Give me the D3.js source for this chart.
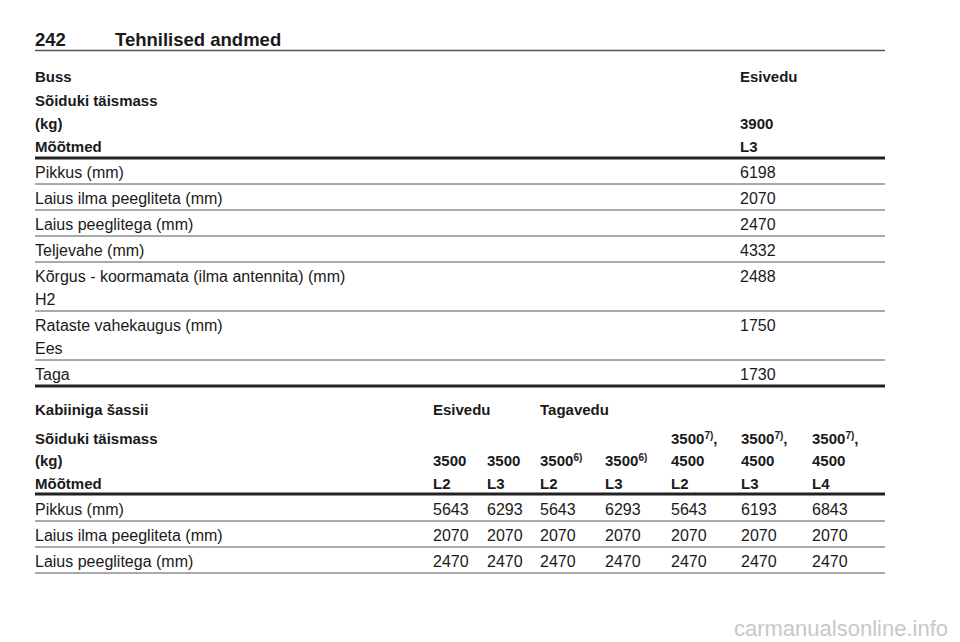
<!DOCTYPE html>
<html><head><meta charset="utf-8">
<script src="https://cdn.jsdelivr.net/npm/d3@7"></script>
<style>body{margin:0;background:#fff}text{font-family:"Liberation Sans",Arial,sans-serif;fill:#1a1a1a}</style>
</head><body><svg id="s" width="960" height="642"></svg>
<script>
const pageNo = "242", pageTitle = "Tehnilised andmed";
const t1Header = [["Buss","Esivedu"],["Sõiduki täismass",""],["(kg)","3900"],["Mõõtmed","L3"]];
const t1Rows = [["Pikkus (mm)","6198"],["Laius ilma peegliteta (mm)","2070"],["Laius peeglitega (mm)","2470"],["Teljevahe (mm)","4332"],["Kõrgus - koormamata (ilma antennita) (mm)|H2","2488"],["Rataste vahekaugus (mm)|Ees","1750"],["Taga","1730"]];
const t2Groups = [["Kabiiniga šassii",-1],["Esivedu",0],["Tagavedu",2]];
const t2Mass1 = ["","","","","3500|7)|,","3500|7)|,","3500|7)|,"];
const t2Mass2 = ["3500","3500","3500|6)|","3500|6)|","4500","4500","4500"];
const t2Dims = ["L2","L3","L2","L3","L2","L3","L4"];
const t2Rows = [["Pikkus (mm)",[5643,6293,5643,6293,5643,6193,6843]],["Laius ilma peegliteta (mm)",[2070,2070,2070,2070,2070,2070,2070]],["Laius peeglitega (mm)",[2470,2470,2470,2470,2470,2470,2470]]];
const watermark = "carmanualsonline.info";

const svg = d3.select("#s");
const L = 35, R = 885;
const colX = d3.scaleOrdinal().domain(d3.range(7)).range([433,487,540,605,671,741,812]);
function line(y,w,c){svg.append("line").attr("x1",L).attr("x2",R).attr("y1",y).attr("y2",y).attr("stroke",c).attr("stroke-width",w);}
function txt(x,y,s,bold,size){
  size = size || (bold?15:16);
  const parts = String(s).split("|");
  const t = svg.append("text").attr("x",x).attr("y",y).attr("font-size",size).attr("font-weight",bold?"bold":"normal");
  t.append("tspan").text(parts[0]);
  if(parts.length>1){t.append("tspan").attr("dy",-5).attr("font-size",10).text(parts[1]);
    if(parts[2]!==undefined) t.append("tspan").attr("dy",5).attr("font-size",size).text(parts[2]);}
}
txt(35,46,pageNo,true,18.5); txt(115,46,pageTitle,true,18.5);
line(50.5,1.5,"#555");
const hy=[82,106,129,152];
t1Header.forEach((r,i)=>{txt(L,hy[i],r[0],true);if(r[1])txt(740,hy[i],r[1],true);});
line(158,3,"#222");
let y=158;
t1Rows.forEach((r,i)=>{
  const labs=r[0].split("|");
  labs.forEach((lb,j)=>txt(L,y+20+j*23,lb,false));
  txt(740,y+20,r[1],false);
  y += 26 + (labs.length-1)*23;
  if(i<t1Rows.length-1) line(y,1,"#555");
});
line(386,3,"#222");
t2Groups.forEach(g=>txt(g[1]<0?L:colX(g[1]),415,g[0],true));
txt(L,444,"Sõiduki täismass",true); txt(L,466,"(kg)",true); txt(L,489,"Mõõtmed",true);
t2Mass1.forEach((s,i)=>{if(s)txt(colX(i),444,s,true);});
t2Mass2.forEach((s,i)=>txt(colX(i),466,s,true));
t2Dims.forEach((s,i)=>txt(colX(i),489,s,true));
line(494,3,"#222");
t2Rows.forEach((r,k)=>{
  const yy=494+21+k*26;
  txt(L,yy,r[0],false);
  r[1].forEach((v,i)=>txt(colX(i),yy,v,false));
  line(yy+6,1,"#555");
});
svg.append("text").attr("x",948).attr("y",636).attr("text-anchor","end").attr("font-size",22).style("fill","#c8c8c8").text(watermark);
</script></body></html>
